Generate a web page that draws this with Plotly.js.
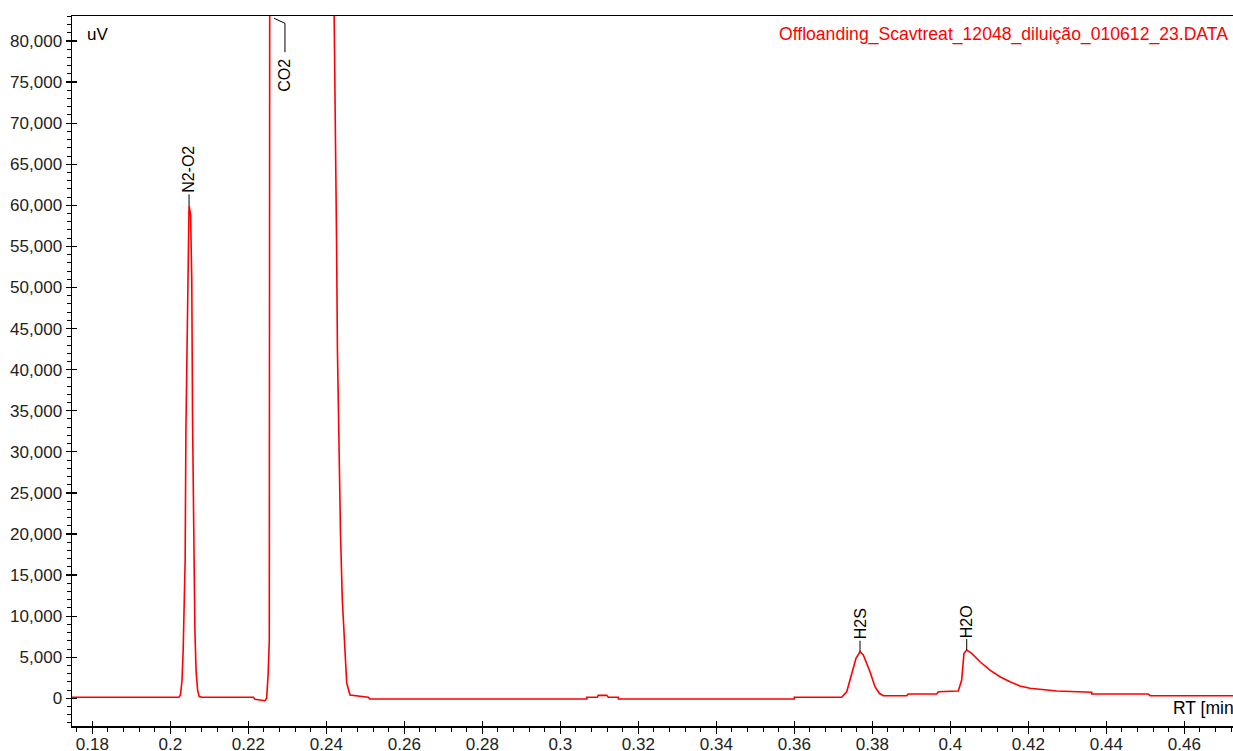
<!DOCTYPE html>
<html>
<head>
<meta charset="utf-8">
<script src="https://cdn.plot.ly/plotly-3.0.1.min.js"></script>
<style>html,body{margin:0;padding:0;background:#fff;}#chart{width:1233px;height:751px;}</style>
</head>
<body>
<div id="chart"></div>
<script>
// Retention time (min) and signal (uV)
const rtN2O2 = [0.1748, 0.2022, 0.2026, 0.2030, 0.2033, 0.2036, 0.2038, 0.2040, 0.2043, 0.2046, 0.2048, 0.2052, 0.2055, 0.2057, 0.2059, 0.2061, 0.2063, 0.2066, 0.2070, 0.2074, 0.2081];
const uvN2O2 = [120, 120, 400, 2200, 5900, 12000, 16800, 32600, 44800, 55700, 60000, 58800, 50900, 33900, 24100, 14400, 8300, 3400, 1000, 220, 120];

const rtCO2 = [0.2213, 0.2217, 0.2243, 0.2247, 0.2251, 0.22538, 0.2255, 0.2330, 0.24185, 0.24241, 0.24262, 0.24285, 0.24320, 0.24364, 0.24410, 0.24450, 0.24485, 0.24523, 0.24608, 0.25077, 0.2512];
const uvCO2 = [120, -120, -290, 0, 3040, 7090, 95000, 160000, 90000, 69100, 56000, 42400, 30200, 20000, 12000, 8500, 6000, 1860, 400, 120, -85];

const rtMid = [0.3068, 0.3068, 0.3095, 0.3097, 0.3119, 0.3123, 0.3149, 0.3149, 0.3600, 0.3600];
const uvMid = [-85, 120, 120, 360, 360, 120, 120, -85, -85, 120];

const rtTail = [0.37215, 0.37344, 0.37472, 0.37582, 0.37685, 0.37769, 0.37941, 0.38069, 0.3818, 0.38282, 0.38882, 0.38923, 0.39651, 0.39692, 0.40205, 0.40292, 0.40351, 0.40421, 0.40549, 0.40762, 0.41018, 0.41274, 0.41531, 0.41787, 0.42044, 0.42472, 0.42728, 0.43626, 0.43626, 0.45077, 0.45121, 0.4730];
const uvTail = [120, 800, 3040, 4870, 5670, 5270, 3240, 1410, 610, 320, 320, 520, 520, 800, 890, 2230, 5470, 5880, 5470, 4450, 3440, 2630, 2020, 1500, 1220, 1010, 890, 730, 520, 520, 320, 320];

// Peak labels
const peakNames = ['N2-O2', 'H2S', 'H2O'];
const peakRT = [0.2048, 0.37685, 0.40421];
const peakUV = [60000, 5670, 5880];
const offscaleName = 'CO2';
const offscaleRT = 0.2294;

const fileTitle = 'Offloanding_Scavtreat_12048_diluição_010612_23.DATA';
const yUnit = 'uV';
const xUnit = 'RT [min]';

const xRange = [0.17479, 0.47249];
const yRange = [-3370, 83041];

const rt = [].concat(rtN2O2, rtCO2, rtMid, rtTail);
const uv = [].concat(uvN2O2, uvCO2, uvMid, uvTail);

const FONT = 'Liberation Sans, Arial, sans-serif';
const LBL = 11;

const traces = [
  {x: rt, y: uv, type: 'scatter', mode: 'lines', line: {color: '#ff0000', width: 1.6}, hoverinfo: 'x+y', showlegend: false},
  {x: [], y: [], type: 'scatter', mode: 'lines', xaxis: 'x2', yaxis: 'y2', showlegend: false, hoverinfo: 'skip'}
];

const annotations = peakNames.map((n, i) => ({
  x: peakRT[i], y: peakUV[i], xref: 'x', yref: 'y',
  text: n, textangle: -90, showarrow: false, yshift: LBL, yanchor: 'bottom', xanchor: 'center', borderpad: 0,
  font: {family: FONT, size: 16, color: '#000'}
}));
annotations.push({
  x: offscaleRT, y: 0.9419, xref: 'x', yref: 'paper', text: offscaleName, textangle: -90,
  showarrow: false, yanchor: 'top', xanchor: 'center', borderpad: 0,
  font: {family: FONT, size: 16, color: '#000'}
});
annotations.push({
  x: 0.9974, y: 0.9745, xref: 'paper', yref: 'paper', text: fileTitle, showarrow: false,
  xanchor: 'right', yanchor: 'middle', font: {family: FONT, size: 17.6, color: '#ff0000'}
});
annotations.push({
  x: 0.011, y: 0.9745, xref: 'paper', yref: 'paper', text: yUnit, showarrow: false,
  xanchor: 'left', yanchor: 'middle', font: {family: FONT, size: 17, color: '#000'}
});
annotations.push({
  x: 0.9465, y: 0.0253, xref: 'paper', yref: 'paper', text: xUnit, showarrow: false,
  xanchor: 'left', yanchor: 'middle', font: {family: FONT, size: 17.5, color: '#000'}
});

const shapes = peakNames.map((n, i) => ({
  type: 'line', xref: 'x', yref: 'y', ysizemode: 'pixel', yanchor: peakUV[i],
  x0: peakRT[i], x1: peakRT[i], y0: 0, y1: LBL, line: {color: '#000', width: 1}
}));
shapes.push(
  {type: 'line', xref: 'x', yref: 'paper', x0: offscaleRT, x1: offscaleRT, y0: 0.9489, y1: 0.9897, line: {color: '#000', width: 1}},
  {type: 'line', xref: 'x', yref: 'paper', x0: 0.2266, x1: offscaleRT, y0: 0.9968, y1: 0.9897, line: {color: '#000', width: 1}}
);

const tickFont = {family: FONT, size: 17, color: '#222'};

const layout = {
  width: 1233, height: 751,
  margin: {l: 72, r: 0, t: 16, b: 25, pad: 0},
  paper_bgcolor: '#fff', plot_bgcolor: '#fff',
  showlegend: false,
  xaxis: {
    range: xRange, tick0: 0, dtick: 0.02, ticks: 'outside', ticklen: 6, tickwidth: 1.2, tickcolor: '#000',
    showgrid: false, zeroline: false, showline: true, linecolor: '#000', linewidth: 1.5, mirror: true,
    tickfont: tickFont, automargin: false, ticklabelstandoff: -4,
    minor: {tick0: 0, dtick: 0.004, ticks: 'outside', ticklen: 4, tickwidth: 1, tickcolor: '#000', showgrid: false}
  },
  yaxis: {
    range: yRange, tick0: 0, dtick: 5000, tickformat: ',d', ticks: 'outside', ticklen: 5, tickwidth: 1.2, tickcolor: '#000',
    showgrid: false, zeroline: false, showline: true, linecolor: '#000', linewidth: 1.5,
    tickfont: tickFont, automargin: false,
    minor: {tick0: 0, dtick: 1000, ticks: 'outside', ticklen: 4, tickwidth: 1, tickcolor: '#000', showgrid: false}
  },
  xaxis2: {
    overlaying: 'x', anchor: 'y', side: 'bottom', range: xRange, tick0: 0, dtick: 0.02, ticks: 'inside', ticklen: 5,
    tickwidth: 1.2, tickcolor: '#000', showticklabels: false, showgrid: false, zeroline: false, showline: false
  },
  yaxis2: {
    overlaying: 'y', anchor: 'x', side: 'left', range: yRange, tick0: 0, dtick: 5000, ticks: 'inside', ticklen: 5,
    tickwidth: 1.2, tickcolor: '#000', showticklabels: false, showgrid: false, zeroline: false, showline: false
  },
  annotations: annotations,
  shapes: shapes
};

Plotly.newPlot('chart', traces, layout, {displayModeBar: false, staticPlot: true});
</script>
</body>
</html>
